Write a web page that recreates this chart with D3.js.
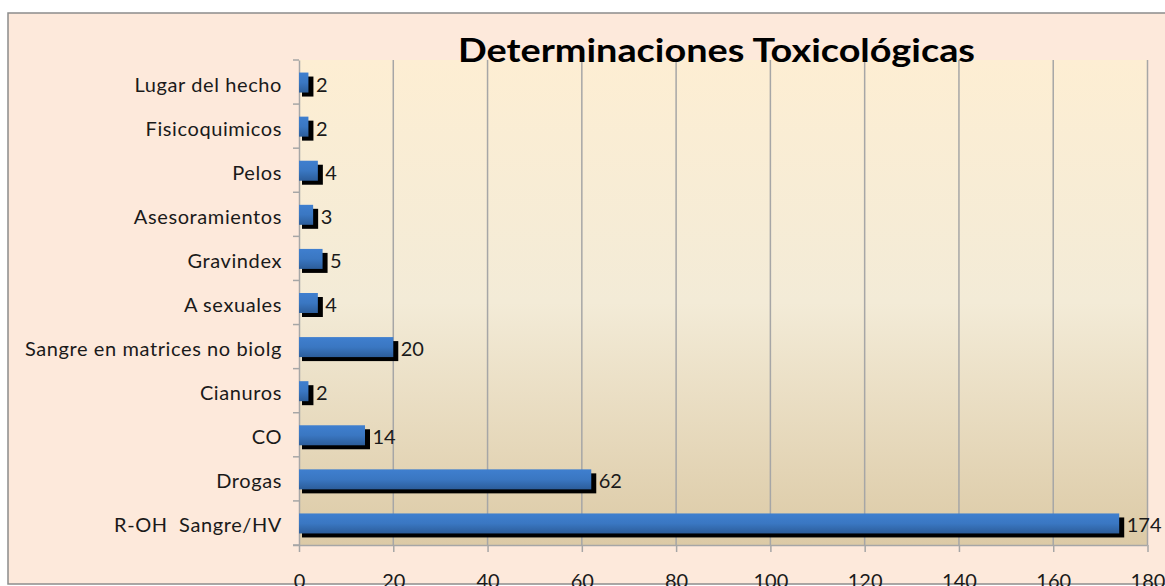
<!DOCTYPE html>
<html>
<head>
<meta charset="utf-8">
<script src="https://cdn.jsdelivr.net/npm/d3@7"></script>
<style>
  html, body { margin: 0; padding: 0; background: #ffffff; }
  svg { display: block; }
</style>
</head>
<body>
<svg id="chart" width="1165" height="586"></svg>
<script>
// ---- data ----
const title = "Determinaciones Toxicológicas";
const categories = [
  "Lugar del hecho",
  "Fisicoquimicos",
  "Pelos",
  "Asesoramientos",
  "Gravindex",
  "A sexuales",
  "Sangre en matrices no biolg",
  "Cianuros",
  "CO",
  "Drogas",
  "R-OH  Sangre/HV"
];
const values = [2, 2, 4, 3, 5, 4, 20, 2, 14, 62, 174];
const xTicks = [0, 20, 40, 60, 80, 100, 120, 140, 160, 180];

// ---- layout ----
const W = 1165, H = 586;
const plot = { left: 299, right: 1147.5, top: 60, bottom: 545 };
const font = "Lato, 'Open Sans', 'DejaVu Sans', sans-serif";

const svg = d3.select("#chart");

const defs = svg.append("defs");
const bg = defs.append("linearGradient").attr("id", "plotBg")
  .attr("x1", 0).attr("y1", 0).attr("x2", 0).attr("y2", 1);
bg.append("stop").attr("offset", "0%").attr("stop-color", "#fdeed3");
bg.append("stop").attr("offset", "50%").attr("stop-color", "#f3ebd7");
bg.append("stop").attr("offset", "100%").attr("stop-color", "#dccaa6");

const barGrad = defs.append("linearGradient").attr("id", "barGrad")
  .attr("x1", 0).attr("y1", 0).attr("x2", 0).attr("y2", 1);
barGrad.append("stop").attr("offset", "0%").attr("stop-color", "#3f7fcf");
barGrad.append("stop").attr("offset", "50%").attr("stop-color", "#3a77c2");
barGrad.append("stop").attr("offset", "100%").attr("stop-color", "#2c5d9a");

// chart area
svg.append("rect")
  .attr("x", 8).attr("y", 13)
  .attr("width", W + 10).attr("height", 584 - 13)
  .attr("fill", "#fde9db")
  .attr("stroke", "#8c8c8c").attr("stroke-width", 1.5);

// scales
const x = d3.scaleLinear().domain([0, 180]).range([plot.left, plot.right]);
const y = d3.scaleBand().domain(categories).range([plot.top, plot.bottom]).paddingInner(0).paddingOuter(0);
const barH = 20;

// plot background
svg.append("rect")
  .attr("x", plot.left).attr("y", plot.top)
  .attr("width", plot.right - plot.left).attr("height", plot.bottom - plot.top)
  .attr("fill", "url(#plotBg)");

// gridlines
svg.append("g")
  .selectAll("line")
  .data(xTicks.slice(1))
  .join("line")
  .attr("x1", d => x(d)).attr("x2", d => x(d))
  .attr("y1", plot.top).attr("y2", plot.bottom)
  .attr("stroke", "#a6a6a6").attr("stroke-width", 1.5);

// x axis
const xAxis = svg.append("g")
  .attr("transform", `translate(0,${plot.bottom})`)
  .call(d3.axisBottom(x).tickValues(xTicks).tickSize(7).tickPadding(20).tickSizeOuter(0));
xAxis.select(".domain").attr("stroke", "#a6a6a6").attr("stroke-width", 1.5)
  .attr("d", `M${plot.left - 6},0.5H${plot.right}`);
xAxis.selectAll(".tick line").attr("stroke", "#a6a6a6").attr("stroke-width", 1.5);
xAxis.selectAll(".tick text")
  .attr("font-family", font).attr("font-size", 20).attr("fill", "#1a1a1a")
  .attr("dy", null).attr("y", 42.5);

// y axis
const yAxis = svg.append("g")
  .attr("transform", `translate(${plot.left},0)`)
  .call(d3.axisLeft(y).tickSize(0).tickPadding(17));
yAxis.select(".domain").attr("stroke", "#a6a6a6").attr("stroke-width", 1.5);
yAxis.selectAll(".tick text")
  .attr("font-family", font).attr("font-size", 20).attr("fill", "#1a1a1a")
  .attr("letter-spacing", 0.6)
  .attr("dy", null).attr("y", 9.5)
  .attr("xml:space", "preserve")
  .style("white-space", "pre");
// tick marks at category boundaries
const bounds = categories.map(c => y(c)).concat([plot.bottom]);
svg.append("g").selectAll("line").data(bounds).join("line")
  .attr("x1", plot.left - 6).attr("x2", plot.left)
  .attr("y1", d => d).attr("y2", d => d)
  .attr("stroke", "#a6a6a6").attr("stroke-width", 1.5);

// bars
const rows = categories.map((c, i) => ({ cat: c, val: values[i] }));
const barY = d => y(d.cat) + y.bandwidth() / 2 - barH / 2 + 0.5;

svg.append("g").selectAll("rect").data(rows).join("rect")
  .attr("x", x(0) + 3)
  .attr("y", d => barY(d) + 4)
  .attr("width", d => x(d.val) - x(0) + 2)
  .attr("height", barH)
  .attr("fill", "#000000");

svg.append("g").selectAll("rect").data(rows).join("rect")
  .attr("x", x(0))
  .attr("y", d => barY(d))
  .attr("width", d => x(d.val) - x(0))
  .attr("height", barH)
  .attr("fill", "url(#barGrad)");

// value labels
svg.append("g").selectAll("text").data(rows).join("text")
  .attr("x", d => x(d.val) + 7.5)
  .attr("y", d => barY(d) + barH / 2 + 9)
  .attr("font-family", font).attr("font-size", 20).attr("fill", "#1a1a1a")
  .text(d => d.val);

// title
svg.append("text")
  .attr("x", 716.5).attr("y", 62)
  .attr("text-anchor", "middle")
  .attr("font-family", font).attr("font-weight", "bold").attr("font-size", 33)
  .attr("textLength", 517).attr("lengthAdjust", "spacingAndGlyphs")
  .attr("fill", "#000000")
  .text(title);
</script>
</body>
</html>
